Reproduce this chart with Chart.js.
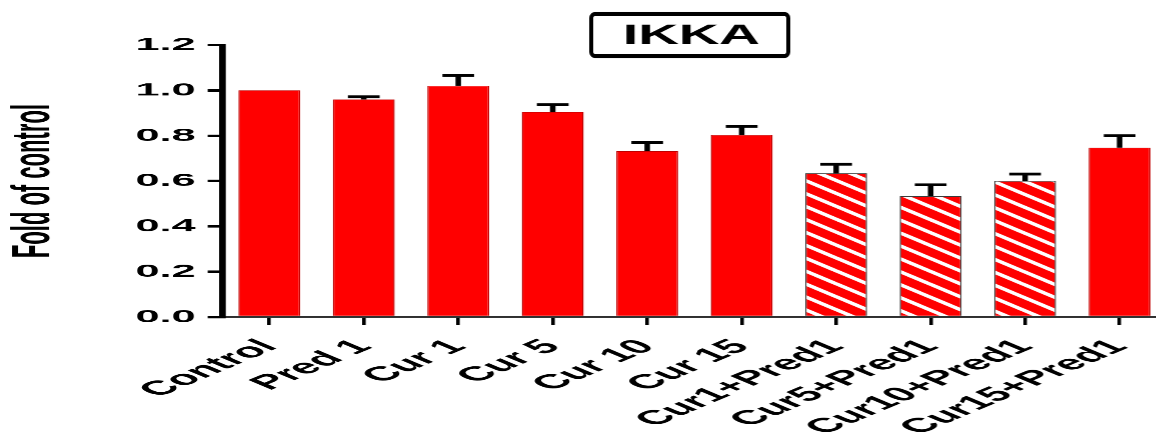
<!DOCTYPE html>
<html>
<head>
<meta charset="utf-8">
<script src="https://cdn.jsdelivr.net/npm/chart.js@4.4.1/dist/chart.umd.min.js"></script>
<style>
  html, body { margin: 0; padding: 0; background: #fff; overflow: hidden; }
  #wrap { position: absolute; left: 0; top: 0; width: 1156px; height: 433px; overflow: hidden; }
  /* the original figure is stretched sideways, so draw narrow and scale in x */
  #chart { transform: scaleX(2.4); transform-origin: 0 0; }
</style>
</head>
<body>
<div id="wrap"><canvas id="chart" width="486" height="433"></canvas></div>
<script>
// ===========================
// DATA
// ===========================
const categories = ['Control', 'Pred 1', 'Cur 1', 'Cur 5', 'Cur 10', 'Cur 15',
  'Cur1+Pred1', 'Cur5+Pred1', 'Cur10+Pred1', 'Cur15+Pred1'];
const foldValues = [1.0, 0.96, 1.02, 0.905, 0.732, 0.803, 0.634, 0.533, 0.60, 0.747];
const foldErrors = [0, 0.012, 0.046, 0.032, 0.038, 0.038, 0.04, 0.05, 0.031, 0.053];
const hatchedBars = [false, false, false, false, false, false, true, true, true, false];
const yTicks = [0, 0.2, 0.4, 0.6, 0.8, 1.0, 1.2];

const STRETCH = 2.4;
const RED = '#ff0000';
const FONT = "'Liberation Sans', Arial, sans-serif";

// ===========================
// HATCH PATTERN (red with white diagonal stripes)
// ===========================
function makeHatch() {
  const t = 31;
  const c = document.createElement('canvas');
  c.width = t; c.height = t;
  const g = c.getContext('2d');
  g.fillStyle = RED;
  g.fillRect(0, 0, t, t);
  g.strokeStyle = '#ffffff';
  g.lineWidth = 6.5;
  for (let k = -1; k <= 1; k++) {
    g.beginPath();
    g.moveTo(k * t - 2, -2);
    g.lineTo(k * t + t + 2, t + 2);
    g.stroke();
  }
  const p = g.createPattern(c, 'repeat');
  p.setTransform(new DOMMatrix().scale(1 / STRETCH));
  return p;
}
const hatch = makeHatch();

// ===========================
// PLUGINS - error bars and boxed title
// ===========================
const errorBars = {
  id: 'errorBars',
  afterDatasetsDraw(chart) {
    const ctx = chart.ctx;
    const meta = chart.getDatasetMeta(0);
    const y = chart.scales.y;
    ctx.save();
    ctx.strokeStyle = '#000';
    meta.data.forEach((bar, i) => {
      const err = foldErrors[i];
      if (!err) return;
      const yTop = y.getPixelForValue(foldValues[i] + err);
      const yBar = y.getPixelForValue(foldValues[i]);
      ctx.lineWidth = 2.3;
      ctx.beginPath();
      ctx.moveTo(bar.x, yBar);
      ctx.lineTo(bar.x, yTop);
      ctx.stroke();
      ctx.lineWidth = 2.8;
      ctx.beginPath();
      ctx.moveTo(bar.x - 6.6, yTop);
      ctx.lineTo(bar.x + 6.6, yTop);
      ctx.stroke();
    });
    ctx.restore();
  }
};

const boxedTitle = {
  id: 'boxedTitle',
  afterDraw(chart) {
    const ctx = chart.ctx;
    ctx.save();
    // work in on-screen pixels
    ctx.scale(1 / STRETCH, 1);
    ctx.strokeStyle = '#000';
    ctx.lineWidth = 4;
    ctx.beginPath();
    ctx.roundRect(591, 14, 197, 42, 4);
    ctx.stroke();
    ctx.font = 'bold 28px ' + FONT;
    ctx.fillStyle = '#000';
    ctx.textAlign = 'center';
    ctx.textBaseline = 'middle';
    const w = ctx.measureText('IKKA').width;
    ctx.translate(691, 36);
    ctx.scale(137 / w, 1);
    ctx.fillText('IKKA', 0, 0);
    ctx.restore();
  }
};

// ===========================
// CHART
// ===========================
const ctx = document.getElementById('chart').getContext('2d');

new Chart(ctx, {
  type: 'bar',
  data: {
    labels: categories,
    datasets: [{
      data: foldValues,
      backgroundColor: hatchedBars.map(h => h ? hatch : RED),
      borderColor: hatchedBars.map(h => h ? '#3a3a3a' : '#c00000'),
      borderWidth: 0.6,
      barPercentage: 0.655,
      categoryPercentage: 1
    }]
  },
  options: {
    responsive: false,
    devicePixelRatio: STRETCH,
    animation: false,
    layout: { padding: { top: 45, left: 0, right: 0, bottom: 0 } },
    plugins: {
      legend: { display: false },
      tooltip: { enabled: false }
    },
    scales: {
      x: {
        offset: true,
        grid: { offset: false, drawOnChartArea: false, drawTicks: true, tickLength: 8, lineWidth: 1.5, color: '#000' },
        border: { display: true, color: '#222', width: 1.6 },
        ticks: {
          autoSkip: false, maxRotation: 45, minRotation: 45, padding: 10,
          color: '#000', font: { family: FONT, size: 20, weight: 'bold' }
        },
        afterFit: s => { s.height = 116; s.paddingLeft = 0; s.paddingRight = 0; }
      },
      y: {
        min: 0, max: 1.2,
        afterBuildTicks: s => { s.ticks = yTicks.map(v => ({ value: v })); },
        grid: { drawOnChartArea: false, drawTicks: true, tickLength: 6, lineWidth: 2.5, color: '#000' },
        border: { display: true, color: '#000', width: 2.8 },
        ticks: {
          padding: 5, color: '#000',
          font: { family: FONT, size: 18, weight: 'bold' },
          callback: v => Number(v).toFixed(1)
        },
        title: {
          display: true, text: 'Fold of control', color: '#000',
          padding: { top: 1, bottom: 0 },
          font: { family: FONT, size: 22, weight: 'bold' }
        },
        afterFit: s => { s.width = 92.5; }
      }
    }
  },
  plugins: [errorBars, boxedTitle]
});
</script>
</body>
</html>
